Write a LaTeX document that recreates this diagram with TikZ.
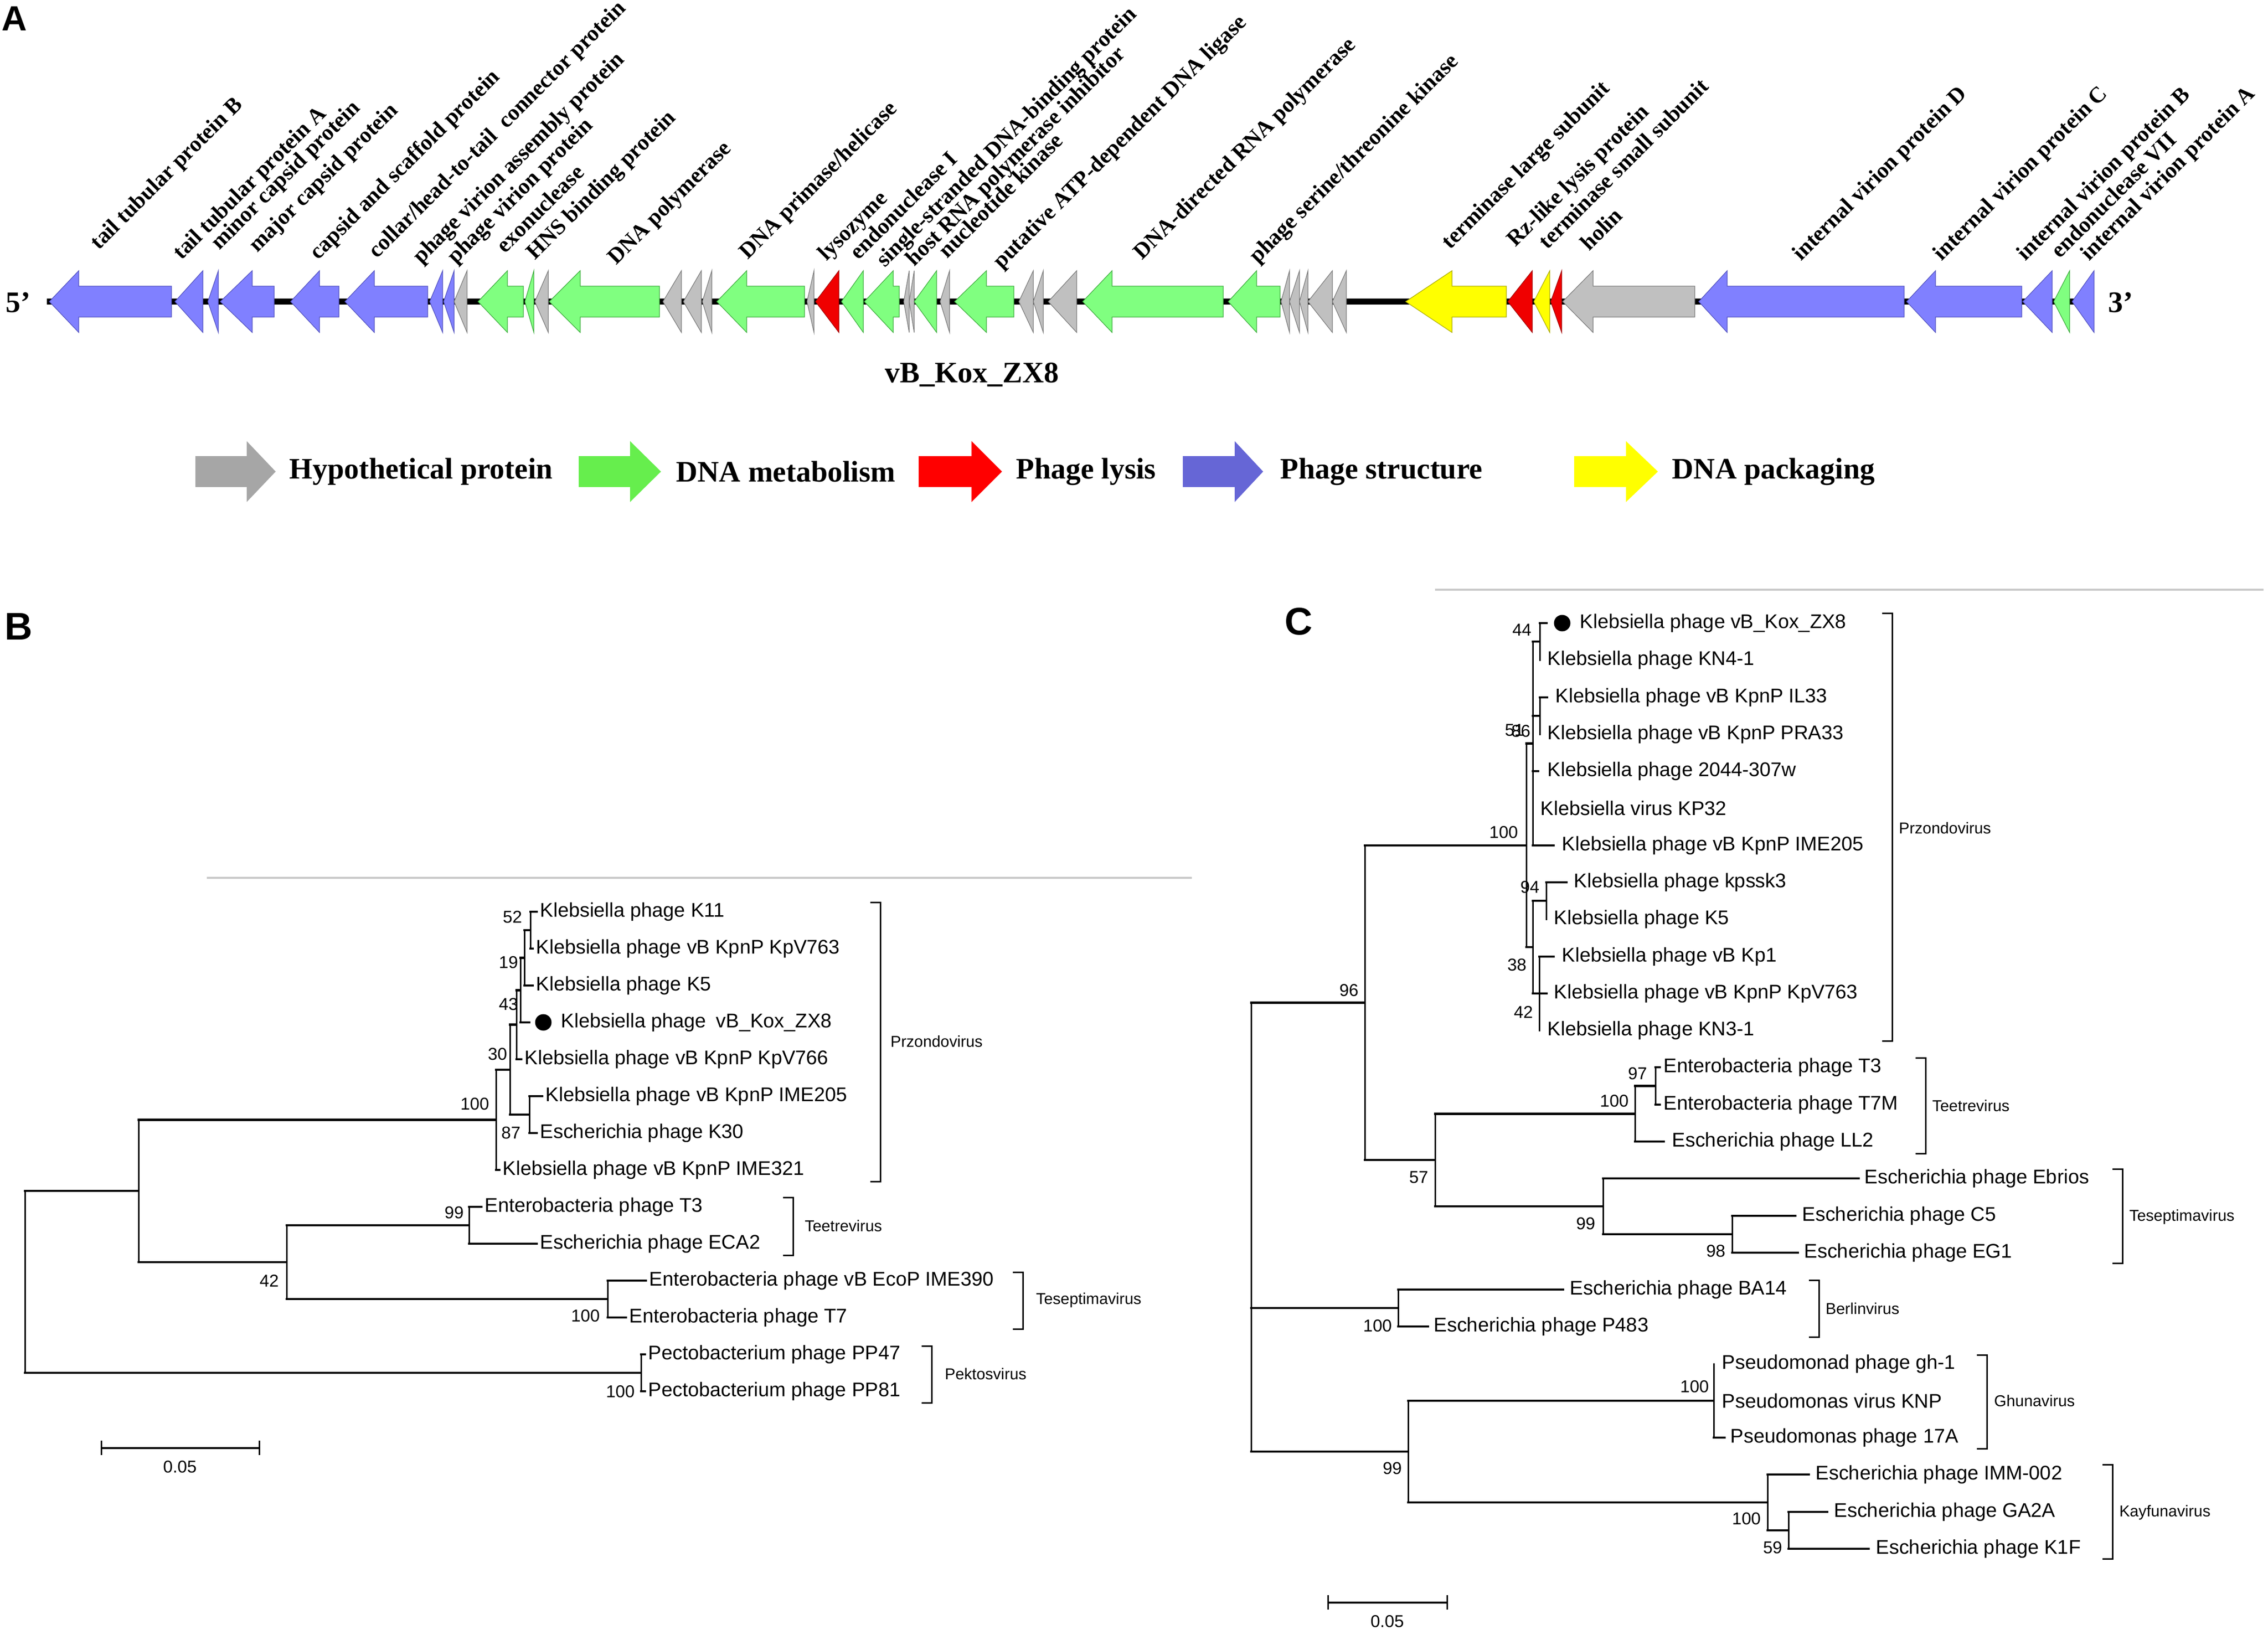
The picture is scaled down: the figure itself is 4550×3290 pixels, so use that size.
\documentclass[tikz,border=0pt]{standalone}
\usepackage{fontspec}
\setmainfont{Liberation Serif}
\setsansfont{Liberation Sans}
\usetikzlibrary{calc}
\definecolor{gblue}{RGB}{128,128,255}
\definecolor{gblueD}{RGB}{80,80,190}
\definecolor{ggreen}{RGB}{128,255,128}
\definecolor{ggreenD}{RGB}{60,170,60}
\definecolor{ggray}{RGB}{192,192,192}
\definecolor{ggrayD}{RGB}{120,120,120}
\definecolor{gred}{RGB}{240,0,0}
\definecolor{gredD}{RGB}{160,0,0}
\definecolor{gyel}{RGB}{255,255,0}
\definecolor{gyelD}{RGB}{170,170,0}
\definecolor{lgray}{RGB}{166,166,166}
\definecolor{lgreen}{RGB}{102,238,77}
\definecolor{lblue}{RGB}{102,102,214}
\definecolor{lred}{RGB}{255,0,0}
\definecolor{lyel}{RGB}{255,255,0}
\definecolor{sepgray}{RGB}{200,200,200}
\newcommand\garr[4]{\filldraw[#4] (#1,605) -- (#2,543) -- (#2,574) -- (#3,574) -- (#3,636) -- (#2,636) -- (#2,667) -- cycle;}
\newcommand\gtri[3]{\filldraw[#3] (#1,605) -- (#2,543) -- (#2,667) -- cycle;}
\newcommand\larr[4]{\fill[#4] (#1,915) -- (#2,915) -- (#2,885) -- (#3,946) -- (#2,1007) -- (#2,977) -- (#1,977) -- cycle;}
\newcommand\tedge[2]{\draw[vbr] (#1) -- (#1 |- #2); \draw[hbr] (#1 |- #2) -- (#2);}
\newcommand\gbracket[3]{\draw[vbr] (#1-19,#2) -- (#1,#2) -- (#1,#3) -- (#1-19,#3);}
\begin{document}
\begin{tikzpicture}[x=0.1mm,y=-0.1mm,
  gb/.style={fill=gblue,draw=gblueD,line width=0.12mm},
  gg/.style={fill=ggreen,draw=ggreenD,line width=0.12mm},
  gy/.style={fill=ggray,draw=ggrayD,line width=0.12mm},
  gr/.style={fill=gred,draw=gredD,line width=0.12mm},
  gyl/.style={fill=gyel,draw=gyelD,line width=0.12mm},
  glab/.style={font=\bfseries\fontsize{12.8}{14}\selectfont,rotate=45,anchor=base west,inner sep=0pt},
  biglab/.style={font=\bfseries\fontsize{17}{20}\selectfont,inner sep=0pt},
  panel/.style={font=\sffamily\bfseries\fontsize{22}{24}\selectfont,anchor=base west,inner sep=0pt},
  leaf/.style={font=\sffamily\fontsize{11.3}{13}\selectfont,anchor=west,inner sep=0pt},
  boot/.style={font=\sffamily\fontsize{9.8}{11}\selectfont,anchor=east,inner sep=0pt},
  genus/.style={font=\sffamily\fontsize{9}{10}\selectfont,anchor=west,inner sep=0pt},
  hbr/.style={line width=0.45mm,line cap=rect},
  vbr/.style={line width=0.3mm,line cap=rect},
  sep/.style={draw=sepgray,line width=0.4mm},
  dot/.style={circle,fill=black,inner sep=0pt,minimum size=3.3mm}]
\useasboundingbox (0,0) rectangle (4550,3290);
\fill[white] (0,0) rectangle (4550,3290);

% ---------------- Panel A ----------------
\node[panel,font=\sffamily\bfseries\fontsize{20}{22}\selectfont] (pA) at (3,61) {A};
\draw[line width=1.2mm] (94,605) -- (4201,605);
\node[biglab,anchor=east] (p5) at (62,607) {5'};
\node[biglab,anchor=west] (p3) at (4229,607) {3'};

\garr{99}{158}{344}{gb}
\gtri{351}{407}{gb}
\gtri{417}{438}{gb}
\garr{442}{506}{550}{gb}
\garr{583}{641}{680}{gb}
\garr{692}{751}{858}{gb}
\gtri{862}{888}{gb}
\gtri{890}{911}{gb}
\gtri{911}{937}{gy}
\garr{959}{1018}{1050}{gg}
\gtri{1053}{1071}{gg}
\gtri{1073}{1100}{gy}
\garr{1102}{1164}{1323}{gg}
\gtri{1330}{1367}{gy}
\gtri{1371}{1407}{gy}
\gtri{1409}{1428}{gy}
\garr{1438}{1498}{1614}{gg}
\gtri{1619}{1633}{gy}
\gtri{1636}{1683}{gr}
\gtri{1688}{1732}{gg}
\garr{1734}{1792}{1804}{gg}
\gtri{1813}{1824}{gy}
\gtri{1824}{1834}{gy}
\gtri{1834}{1879}{gg}
\gtri{1886}{1905}{gy}
\garr{1915}{1979}{2034}{gg}
\gtri{2044}{2073}{gy}
\gtri{2073}{2093}{gy}
\gtri{2103}{2160}{gy}
\garr{2172}{2231}{2454}{gg}
\garr{2464}{2521}{2568}{gg}
\gtri{2570}{2587}{gy}
\gtri{2587}{2607}{gy}
\gtri{2607}{2624}{gy}
\gtri{2624}{2673}{gy}
\gtri{2673}{2701}{gy}
\garr{2820}{2913}{3022}{gyl}
\gtri{3025}{3074}{gr}
\gtri{3077}{3109}{gyl}
\gtri{3111}{3133}{gr}
\garr{3135}{3196}{3400}{gy}
\garr{3408}{3465}{3820}{gb}
\garr{3825}{3883}{4056}{gb}
\gtri{4058}{4117}{gb}
\gtri{4120}{4152}{gg}
\gtri{4157}{4201}{gb}

\node[glab] (g1) at (198,503) {tail tubular protein B};
\node[glab] (g2) at (364,523) {tail tubular protein A};
\node[glab] (g3) at (440,503) {minor capsid protein};
\node[glab] (g4) at (516,508) {major capsid protein};
\node[glab] (g5) at (638,523) {capsid and scaffold protein};
\node[glab] (g6) at (756,520) {collar/head-to-tail\ \ connector protein};
\node[glab] (g7) at (845,531) {phage virion assembly protein};
\node[glab] (g8) at (914,531) {phage virion protein};
\node[glab] (g9) at (1013,510) {exonuclease};
\node[glab] (g10) at (1073,523) {HNS binding protein};
\node[glab] (g11) at (1236,533) {DNA polymerase};
\node[glab] (g12) at (1500,522) {DNA primase/helicase};
\node[glab] (g13) at (1658,525) {lysozyme};
\node[glab] (g14) at (1722,523) {endonuclease I};
\node[glab] (g15) at (1775,538) {single-stranded DNA-binding protein};
\node[glab] (g16) at (1834,536) {host RNA polymerase inhibitor};
\node[glab] (g17) at (1900,520) {nucleotide kinase};
\node[glab] (g18) at (2009,541) {putative ATP-dependent DNA ligase};
\node[glab] (g19) at (2291,523) {DNA-directed RNA polymerase};
\node[glab] (g20) at (2523,530) {phage serine/threonine kinase};
\node[glab] (g21) at (2909,502) {terminase large subunit};
\node[glab] (g22) at (3040,497) {Rz-like lysis protein};
\node[glab] (g23) at (3104,502) {terminase small subunit};
\node[glab] (g24) at (3188,505) {holin};
\node[glab] (g25) at (3613,525) {internal virion protein D};
\node[glab] (g26) at (3895,525) {internal virion protein C};
\node[glab] (g27) at (4063,525) {internal virion protein B};
\node[glab] (g28) at (4132,520) {endonuclease VII};
\node[glab] (g29) at (4191,525) {internal virion protein A};

\node[biglab] (gname) at (1950,752) {vB\_Kox\_ZX8};

% legend
\larr{392}{495}{553}{lgray}
\node[biglab,anchor=west] (lg1) at (580,946) {Hypothetical protein};
\larr{1161}{1264}{1326}{lgreen}
\node[biglab,anchor=west] (lg2) at (1356,946) {DNA metabolism};
\larr{1843}{1949}{2010}{lred}
\node[biglab,anchor=west] (lg3) at (2038,946) {Phage lysis};
\larr{2373}{2477}{2534}{lblue}
\node[biglab,anchor=west] (lg4) at (2568,946) {Phage structure};
\larr{3158}{3262}{3326}{lyel}
\node[biglab,anchor=west] (lg5) at (3354,946) {DNA packaging};

% ---------------- Panel B ----------------
\node[panel] (pB) at (9,1283) {B};
\draw[sep] (415,1761) -- (2391,1761);

\coordinate (bRoot) at (50,2571.6);
\coordinate (b278) at (278,2389.2);
\coordinate (bTop) at (995,2246.4);
\coordinate (b100) at (1023,2145.8);
\coordinate (b30) at (1036,2055.6);
\coordinate (b43) at (1044,1986.3);
\coordinate (b19) at (1052,1921.5);
\coordinate (b52) at (1064,1866);
\coordinate (b87) at (1062,2236);
\coordinate (b575) at (575,2532);
\coordinate (b941) at (941,2458);
\coordinate (b1219) at (1219,2606);
\coordinate (bPec) at (1286,2754);
\coordinate (bK11) at (1077,1829);
\coordinate (bKpV763) at (1069,1903);
\coordinate (bK5) at (1069,1977);
\coordinate (bZX8) at (1062,2051);
\coordinate (bKpV766) at (1046,2125);
\coordinate (bIME205) at (1088,2199);
\coordinate (bK30) at (1077,2273);
\coordinate (bIME321) at (1002,2347);
\coordinate (bT3) at (966,2421);
\coordinate (bECA2) at (1077,2495);
\coordinate (bIME390) at (1296,2569);
\coordinate (bT7) at (1256,2643);
\coordinate (bPP47) at (1294,2717);
\coordinate (bPP81) at (1294,2791);

\tedge{bRoot}{b278} \tedge{bRoot}{bPec}
\tedge{b278}{bTop} \tedge{b278}{b575}
\tedge{bTop}{b100} \tedge{bTop}{bIME321}
\tedge{b100}{b30} \tedge{b100}{b87}
\tedge{b30}{b43} \tedge{b30}{bKpV766}
\tedge{b43}{b19} \tedge{b43}{bZX8}
\tedge{b19}{b52} \tedge{b19}{bK5}
\tedge{b52}{bK11} \tedge{b52}{bKpV763}
\tedge{b87}{bIME205} \tedge{b87}{bK30}
\tedge{b575}{b941} \tedge{b575}{b1219}
\tedge{b941}{bT3} \tedge{b941}{bECA2}
\tedge{b1219}{bIME390} \tedge{b1219}{bT7}
\tedge{bPec}{bPP47} \tedge{bPec}{bPP81}

\node[leaf] (tbK11) at (1083,1829) {Klebsiella phage K11};
\node[leaf] (tbKpV763) at (1075,1903) {Klebsiella phage vB KpnP KpV763};
\node[leaf] (tbK5) at (1075,1977) {Klebsiella phage K5};
\node[dot] (bdot) at (1090,2051) {};
\node[leaf] (tbZX8) at (1125,2051) {Klebsiella phage\enspace vB\_Kox\_ZX8};
\node[leaf] (tbKpV766) at (1052,2125) {Klebsiella phage vB KpnP KpV766};
\node[leaf] (tbIME205) at (1094,2199) {Klebsiella phage vB KpnP IME205};
\node[leaf] (tbK30) at (1083,2273) {Escherichia phage K30};
\node[leaf] (tbIME321) at (1008,2347) {Klebsiella phage vB KpnP IME321};
\node[leaf] (tbT3) at (972,2421) {Enterobacteria phage T3};
\node[leaf] (tbECA2) at (1083,2495) {Escherichia phage ECA2};
\node[leaf] (tbIME390) at (1302,2569) {Enterobacteria phage vB EcoP IME390};
\node[leaf] (tbT7) at (1262,2643) {Enterobacteria phage T7};
\node[leaf] (tbPP47) at (1300,2717) {Pectobacterium phage PP47};
\node[leaf] (tbPP81) at (1300,2791) {Pectobacterium phage PP81};

\node[boot] (bb52) at (1048,1840) {52};
\node[boot] (bb19) at (1040,1931) {19};
\node[boot] (bb43) at (1040,2015) {43};
\node[boot] (bb30) at (1018,2115) {30};
\node[boot] (bb100) at (982,2215) {100};
\node[boot] (bb87) at (1045,2273) {87};
\node[boot] (bb99) at (931,2433) {99};
\node[boot] (bb42) at (560,2569) {42};
\node[boot] (bb100b) at (1204,2640) {100};
\node[boot] (bb100c) at (1274,2792) {100};

\gbracket{1766}{1810}{2370}
\node[genus] (gbP) at (1786,2089) {Przondovirus};
\gbracket{1591}{2402}{2518}
\node[genus] (gbT) at (1614,2459) {Teetrevirus};
\gbracket{2052}{2552}{2666}
\node[genus] (gbS) at (2078,2608) {Teseptimavirus};
\gbracket{1869}{2700}{2814}
\node[genus] (gbK) at (1895,2756) {Pektosvirus};

\coordinate (bsA) at (203,2905);
\coordinate (bsB) at (520,2905);
\draw[hbr,line cap=butt] (bsA) -- (bsB);
\draw[vbr,line cap=butt] (203,2890) -- (203,2919);
\draw[vbr,line cap=butt] (520,2890) -- (520,2919);
\node[boot,anchor=center] (bscale) at (361,2943) {0.05};

% ---------------- Panel C ----------------
\node[panel] (pC) at (2577,1273) {C};
\draw[sep] (2879,1183) -- (4541,1183);

\coordinate (cRoot) at (2510,2461.7);
\coordinate (c96) at (2738,2011.4);
\coordinate (c100) at (3062,1695.8);
\coordinate (cP) at (3075,1491.5);
\coordinate (c44) at (3089,1287);
\coordinate (c86) at (3089,1436);
\coordinate (c38) at (3075,1900);
\coordinate (c94) at (3102,1807);
\coordinate (c42) at (3088,1993);
\coordinate (c57) at (2879,2327.1);
\coordinate (c100t) at (3280,2234.3);
\coordinate (c97) at (3321,2178.5);
\coordinate (c99a) at (3216,2420);
\coordinate (c98) at (3475,2476);
\coordinate (cB) at (2805,2624);
\coordinate (c99b) at (2825,2912);
\coordinate (cG) at (3438,2810);
\coordinate (c100k) at (3546,3014);
\coordinate (c59) at (3588,3070);
\coordinate (cZX8) at (3103,1250);
\coordinate (cKN41) at (3089,1324);
\coordinate (cIL33) at (3104,1399);
\coordinate (cPRA33) at (3089,1473);
\coordinate (c2044) at (3086,1547);
\coordinate (cKP32) at (3075,1621);
\coordinate (cIME205) at (3117,1696);
\coordinate (cKpssk3) at (3143,1770);
\coordinate (cK5) at (3102,1844);
\coordinate (cKp1) at (3117,1919);
\coordinate (cKpV763) at (3103,1993);
\coordinate (cKN31) at (3088,2067);
\coordinate (cT3) at (3330,2141);
\coordinate (cT7M) at (3330,2216);
\coordinate (cLL2) at (3338,2290);
\coordinate (cEbrios) at (3729,2364);
\coordinate (cC5) at (3602,2439);
\coordinate (cEG1) at (3607,2513);
\coordinate (cBA14) at (3136,2587);
\coordinate (cP483) at (2865,2661);
\coordinate (cGh1) at (3438,2736);
\coordinate (cKNP) at (3438,2810);
\coordinate (c17A) at (3460,2884);
\coordinate (cIMM) at (3629,2958);
\coordinate (cGA2A) at (3666,3033);
\coordinate (cK1F) at (3749,3107);

\tedge{cRoot}{c96} \tedge{cRoot}{cB} \tedge{cRoot}{c99b}
\tedge{c96}{c100} \tedge{c96}{c57}
\tedge{c100}{cP} \tedge{c100}{c38}
\tedge{cP}{c44} \tedge{cP}{c86} \tedge{cP}{c2044} \tedge{cP}{cKP32} \tedge{cP}{cIME205}
\tedge{c44}{cZX8} \tedge{c44}{cKN41}
\tedge{c86}{cIL33} \tedge{c86}{cPRA33}
\tedge{c38}{c94} \tedge{c38}{c42}
\tedge{c94}{cKpssk3} \tedge{c94}{cK5}
\tedge{c42}{cKp1} \tedge{c42}{cKpV763} \tedge{c42}{cKN31}
\tedge{c57}{c100t} \tedge{c57}{c99a}
\tedge{c100t}{c97} \tedge{c100t}{cLL2}
\tedge{c97}{cT3} \tedge{c97}{cT7M}
\tedge{c99a}{cEbrios} \tedge{c99a}{c98}
\tedge{c98}{cC5} \tedge{c98}{cEG1}
\tedge{cB}{cBA14} \tedge{cB}{cP483}
\tedge{c99b}{cG} \tedge{c99b}{c100k}
\tedge{cG}{cGh1} \tedge{cG}{cKNP} \tedge{cG}{c17A}
\tedge{c100k}{cIMM} \tedge{c100k}{c59}
\tedge{c59}{cGA2A} \tedge{c59}{cK1F}

\node[dot] (cdot) at (3134,1250) {};
\node[leaf] (tcZX8) at (3169,1250) {Klebsiella phage vB\_Kox\_ZX8};
\node[leaf] (tcKN41) at (3104,1324) {Klebsiella phage KN4-1};
\node[leaf] (tcIL33) at (3120,1399) {Klebsiella phage vB KpnP IL33};
\node[leaf] (tcPRA33) at (3104,1473) {Klebsiella phage vB KpnP PRA33};
\node[leaf] (tc2044) at (3104,1547) {Klebsiella phage 2044-307w};
\node[leaf] (tcKP32) at (3090,1621) {Klebsiella virus KP32};
\node[leaf] (tcIME205) at (3133,1696) {Klebsiella phage vB KpnP IME205};
\node[leaf] (tcKpssk3) at (3157,1770) {Klebsiella phage kpssk3};
\node[leaf] (tcK5) at (3117,1844) {Klebsiella phage K5};
\node[leaf] (tcKp1) at (3133,1919) {Klebsiella phage vB Kp1};
\node[leaf] (tcKpV763) at (3117,1993) {Klebsiella phage vB KpnP KpV763};
\node[leaf] (tcKN31) at (3104,2067) {Klebsiella phage KN3-1};
\node[leaf] (tcT3) at (3337,2141) {Enterobacteria phage T3};
\node[leaf] (tcT7M) at (3337,2216) {Enterobacteria phage T7M};
\node[leaf] (tcLL2) at (3354,2290) {Escherichia phage LL2};
\node[leaf] (tcEbrios) at (3740,2364) {Escherichia phage Ebrios};
\node[leaf] (tcC5) at (3615,2439) {Escherichia phage C5};
\node[leaf] (tcEG1) at (3619,2513) {Escherichia phage EG1};
\node[leaf] (tcBA14) at (3149,2587) {Escherichia phage BA14};
\node[leaf] (tcP483) at (2876,2661) {Escherichia phage P483};
\node[leaf] (tcGh1) at (3454,2736) {Pseudomonad phage gh-1};
\node[leaf] (tcKNP) at (3454,2810) {Pseudomonas virus KNP};
\node[leaf] (tc17A) at (3471,2884) {Pseudomonas phage 17A};
\node[leaf] (tcIMM) at (3642,2958) {Escherichia phage IMM-002};
\node[leaf] (tcGA2A) at (3679,3033) {Escherichia phage GA2A};
\node[leaf] (tcK1F) at (3763,3107) {Escherichia phage K1F};

\node[boot] (cb44) at (3073,1264) {44};
\node[boot] (cb51) at (3058,1465) {51};
\node[boot] (cb86) at (3071,1467) {86};
\node[boot] (cb100) at (3046,1670) {100};
\node[boot] (cb94) at (3089,1780) {94};
\node[boot] (cb38) at (3063,1936) {38};
\node[boot] (cb42) at (3076,2030) {42};
\node[boot] (cb96) at (2726,1987) {96};
\node[boot] (cb97) at (3305,2154) {97};
\node[boot] (cb100t) at (3268,2209) {100};
\node[boot] (cb57) at (2866,2362) {57};
\node[boot] (cb99a) at (3201,2455) {99};
\node[boot] (cb98) at (3462,2510) {98};
\node[boot] (cb100B) at (2793,2660) {100};
\node[boot] (cb100G) at (3429,2782) {100};
\node[boot] (cb99b) at (2813,2946) {99};
\node[boot] (cb100k) at (3533,3047) {100};
\node[boot] (cb59) at (3576,3105) {59};

\gbracket{3796}{1230}{2088}
\node[genus] (gcP) at (3809,1661) {Przondovirus};
\gbracket{3863}{2122}{2314}
\node[genus] (gcT) at (3876,2218) {Teetrevirus};
\gbracket{4258}{2345}{2534}
\node[genus] (gcS) at (4271,2441) {Teseptimavirus};
\gbracket{3649}{2568}{2682}
\node[genus] (gcB) at (3662,2625) {Berlinvirus};
\gbracket{3986}{2718}{2906}
\node[genus] (gcG) at (4000,2810) {Ghunavirus};
\gbracket{4238}{2938}{3127}
\node[genus] (gcK) at (4251,3034) {Kayfunavirus};

\coordinate (csA) at (2664,3215);
\coordinate (csB) at (2903,3215);
\draw[hbr,line cap=butt] (csA) -- (csB);
\draw[vbr,line cap=butt] (2664,3200) -- (2664,3229);
\draw[vbr,line cap=butt] (2903,3200) -- (2903,3229);
\node[boot,anchor=center] (cscale) at (2783,3253) {0.05};
\end{tikzpicture}
\end{document}
